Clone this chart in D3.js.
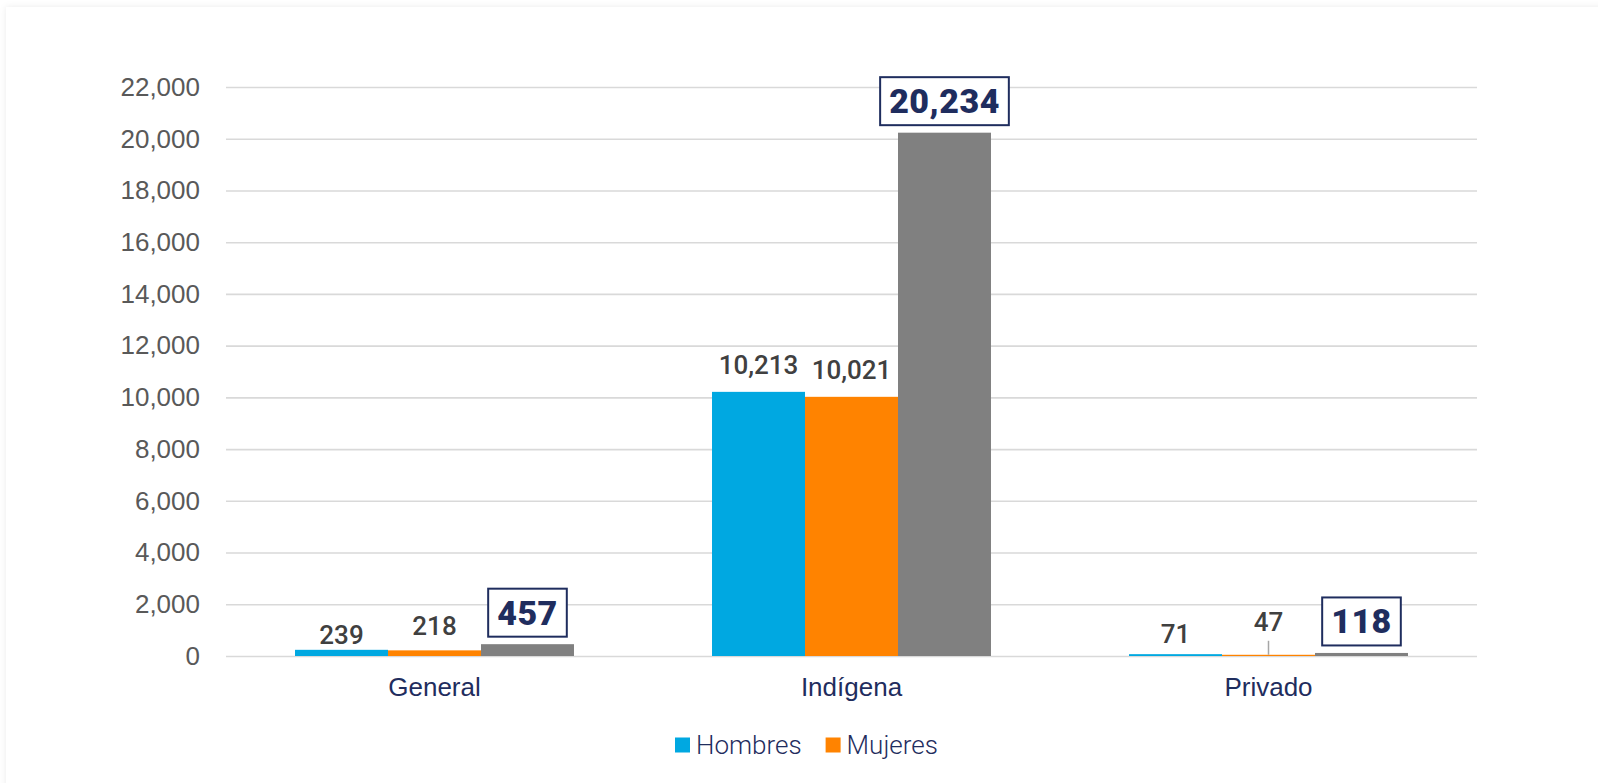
<!DOCTYPE html>
<html>
<head>
<meta charset="utf-8">
<script src="https://cdn.jsdelivr.net/npm/d3@7"></script>
<style>
  html, body { margin: 0; padding: 0; background: #ffffff; }
  svg { display: block; font-family: Roboto, "Noto Sans", sans-serif; }
</style>
</head>
<body>
<svg id="chart" width="1598" height="783"></svg>
<script>
// ---- data ----
const categories = ["General", "Indígena", "Privado"];
const seriesNames = ["Hombres", "Mujeres", "Total"];
const hombres = [239, 10213, 71];
const mujeres = [218, 10021, 47];
const totales = [457, 20234, 118];
const yTicks = [0, 2000, 4000, 6000, 8000, 10000, 12000, 14000, 16000, 18000, 20000, 22000];
const legendItems = ["Hombres", "Mujeres"];

// ---- layout / style config ----
const colors = { Hombres: "#00a8e1", Mujeres: "#ff8300", Total: "#808080" };
const navy = "#1f2d5e";
const plot = { left: 226, right: 1477, top: 87, bottom: 656 };
// label vertical nudges (px) relative to default placement above bar
const labelNudge = {
  "General|Hombres": 12, "General|Mujeres": 3,
  "Privado|Hombres": 7, "Privado|Mujeres": -6
};
const leaderLines = { "Privado|Mujeres": true };

const svg = d3.select("#chart");

// card background
svg.append("defs").append("filter").attr("id", "shadow")
  .attr("x", "-5%").attr("y", "-5%").attr("width", "110%").attr("height", "110%")
  .append("feDropShadow").attr("dx", 0).attr("dy", 0).attr("stdDeviation", 3)
  .attr("flood-color", "#000").attr("flood-opacity", 0.08);
svg.append("rect").attr("x", 6).attr("y", 7).attr("width", 1620).attr("height", 800)
  .attr("fill", "#fff").attr("filter", "url(#shadow)");

const y = d3.scaleLinear().domain([0, 22000]).range([plot.bottom, plot.top]);
const x0 = d3.scaleBand().domain(categories).range([plot.left, plot.right])
  .paddingInner(0.331).paddingOuter(0.1655);
const x1 = d3.scaleBand().domain(seriesNames).range([0, x0.bandwidth()]).padding(0);

// y axis with gridlines
const yAxis = svg.append("g").attr("transform", `translate(${plot.left},0)`)
  .call(d3.axisLeft(y).tickValues(yTicks).tickFormat(d3.format(","))
    .tickSizeInner(-(plot.right - plot.left)).tickSizeOuter(0).tickPadding(26));
yAxis.select(".domain").remove();
yAxis.selectAll(".tick line").attr("stroke", "#d9d9d9").attr("stroke-width", 1.6);
yAxis.selectAll(".tick text").attr("fill", "#595959").attr("font-size", 26)
  .attr("font-weight", 300);

// x axis
const xAxis = svg.append("g").attr("transform", `translate(0,${plot.bottom})`)
  .call(d3.axisBottom(x0).tickSize(0).tickPadding(22));
xAxis.select(".domain").remove();
xAxis.selectAll(".tick text").attr("fill", navy).attr("font-size", 26)
  .attr("font-weight", 300);

// bars
const rows = categories.map((c, i) => ({
  cat: c,
  vals: [
    { s: "Hombres", v: hombres[i] },
    { s: "Mujeres", v: mujeres[i] },
    { s: "Total", v: totales[i] }
  ]
}));

const groups = svg.append("g").selectAll("g").data(rows).join("g")
  .attr("transform", d => `translate(${x0(d.cat)},0)`);

groups.selectAll("rect").data(d => d.vals).join("rect")
  .attr("x", d => x1(d.s))
  .attr("width", x1.bandwidth())
  .attr("y", d => y(d.v))
  .attr("height", d => y(0) - y(d.v))
  .attr("fill", d => colors[d.s]);

// data labels for Hombres/Mujeres
groups.each(function (row) {
  const g = d3.select(this);
  row.vals.forEach(d => {
    const cx = x1(d.s) + x1.bandwidth() / 2;
    const top = y(d.v);
    const key = row.cat + "|" + d.s;
    if (d.s !== "Total") {
      const ty = top - 27 + (labelNudge[key] || 0);
      g.append("text").attr("x", cx).attr("y", ty)
        .attr("text-anchor", "middle").attr("dominant-baseline", "central")
        .attr("font-size", 26).attr("font-weight", 500).attr("fill", "#404040")
        .text(d3.format(",")(d.v));
      if (leaderLines[key]) {
        g.append("line").attr("x1", cx).attr("x2", cx)
          .attr("y1", ty + 19).attr("y2", top)
          .attr("stroke", "#a6a6a6").attr("stroke-width", 1.5);
      }
    } else {
      const boxBottom = top - 7.5;
      const boxH = 48;
      const t = g.append("text").attr("x", cx).attr("y", boxBottom - boxH / 2)
        .attr("text-anchor", "middle").attr("dominant-baseline", "central")
        .attr("font-size", 34).attr("font-weight", 900).attr("fill", navy)
        .attr("letter-spacing", 0.5)
        .text(d3.format(",")(d.v));
      const bb = t.node().getBBox();
      g.insert("rect", "text:last-of-type")
        .attr("x", cx - bb.width / 2 - 9).attr("y", boxBottom - boxH)
        .attr("width", bb.width + 18).attr("height", boxH)
        .attr("fill", "#fff").attr("stroke", navy).attr("stroke-width", 2);
    }
  });
});

// legend
const legend = svg.append("g").attr("transform", "translate(675,745)");
let lx = 0;
legendItems.forEach(name => {
  const item = legend.append("g").attr("transform", `translate(${lx},0)`);
  item.append("rect").attr("x", 0).attr("y", -7.5).attr("width", 15).attr("height", 15)
    .attr("fill", colors[name]);
  const t = item.append("text").attr("x", 21).attr("y", 0)
    .attr("dominant-baseline", "central").attr("font-size", 26).attr("font-weight", 300)
    .attr("fill", navy).text(name);
  lx += 21 + t.node().getComputedTextLength() + 24;
});
</script>
</body>
</html>
